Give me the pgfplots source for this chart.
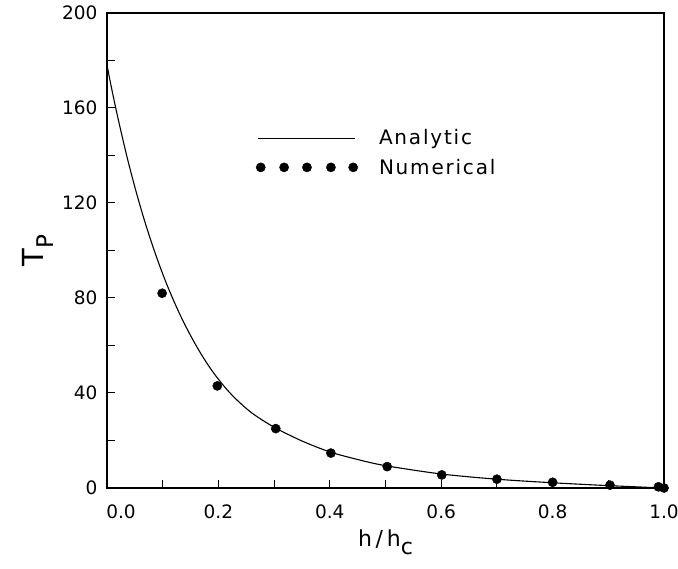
\documentclass[border=0pt]{standalone}
\usepackage{fontspec}
\setmainfont{DejaVu Sans}
\usepackage{pgfplots}
\pgfplotsset{compat=1.18}
\begin{document}
\begin{tikzpicture}[x=1pt,y=1pt]
\useasboundingbox (-107,-81) rectangle (571,488);
\begin{axis}[
  scale only axis,
  width=557pt, height=475pt,
  at={(0,0)}, anchor=south west,
  xmin=0, xmax=1, ymin=0, ymax=200,
  clip=false,
  axis line style={line width=1.1pt},
  tick align=inside,
  xtick pos=lower, ytick pos=left,
  major tick length=8pt,
  tick style={line width=1pt, black},
  xtick={0,0.1,0.2,0.3,0.4,0.5,0.6,0.7,0.8,0.9,1.0},
  xticklabels={{\hspace{28pt}0.0},,0.2,,0.4,,0.6,,0.8,,{1.0\hspace{10pt}}},
  ytick={0,20,40,60,80,100,120,140,160,180,200},
  yticklabels={0,,40,,80,,120,,160,,200},
  /pgf/number format/assume math mode=true,
  tick label style={font=\fontsize{18.5}{20}\selectfont},
  xticklabel style={yshift=-13pt},
  yticklabel style={xshift=-6pt},
  xlabel={h\,/\,h\raisebox{-8pt}{c}},
  xlabel style={font=\fontsize{22}{24}\selectfont, yshift=-4pt},
  ylabel={\fontsize{29}{30}\selectfont T\raisebox{-10pt}{\fontsize{23}{24}\selectfont P}},
  ylabel style={yshift=2pt},
]
\addplot[black, line width=1.1pt, smooth] coordinates {
(0,178) (0.01,166.3) (0.02,155.4) (0.035,140.3) (0.05,126.7) (0.065,114.4) (0.08,103.3) (0.095,93.3) (0.11,84.2) (0.13,73.5) (0.15,64.2) (0.17,56.0) (0.19,48.9) (0.21,42.9) (0.23,37.8) (0.26,31.6) (0.3,25.6) (0.35,19.8) (0.4,15.2) (0.45,12) (0.5,9.4) (0.6,5.9) (0.7,3.7) (0.8,2.2) (0.9,1.0) (1.0,0)
};
\addplot[only marks, mark=*, mark size=4.6pt, black] coordinates {
(0.099,82) (0.198,43) (0.303,25) (0.402,14.7) (0.503,9) (0.601,5.5) (0.700,3.7) (0.800,2.4) (0.903,1.2) (0.99,0.5) (1.0,0)
};
% legend
\addplot[black, line width=1.1pt] coordinates {(0.271,147) (0.445,147)};
\addplot[only marks, mark=*, mark size=4.6pt, black] coordinates {(0.276,135) (0.318,135) (0.359,135) (0.402,135) (0.442,135)};
\node[anchor=west, font=\fontsize{20}{22}\selectfont\addfontfeature{LetterSpace=9}] at (axis cs:0.482,147) {Analytic};
\node[anchor=west, font=\fontsize{20}{22}\selectfont\addfontfeature{LetterSpace=9}] at (axis cs:0.482,135) {Numerical};
\end{axis}
\end{tikzpicture}
\end{document}
